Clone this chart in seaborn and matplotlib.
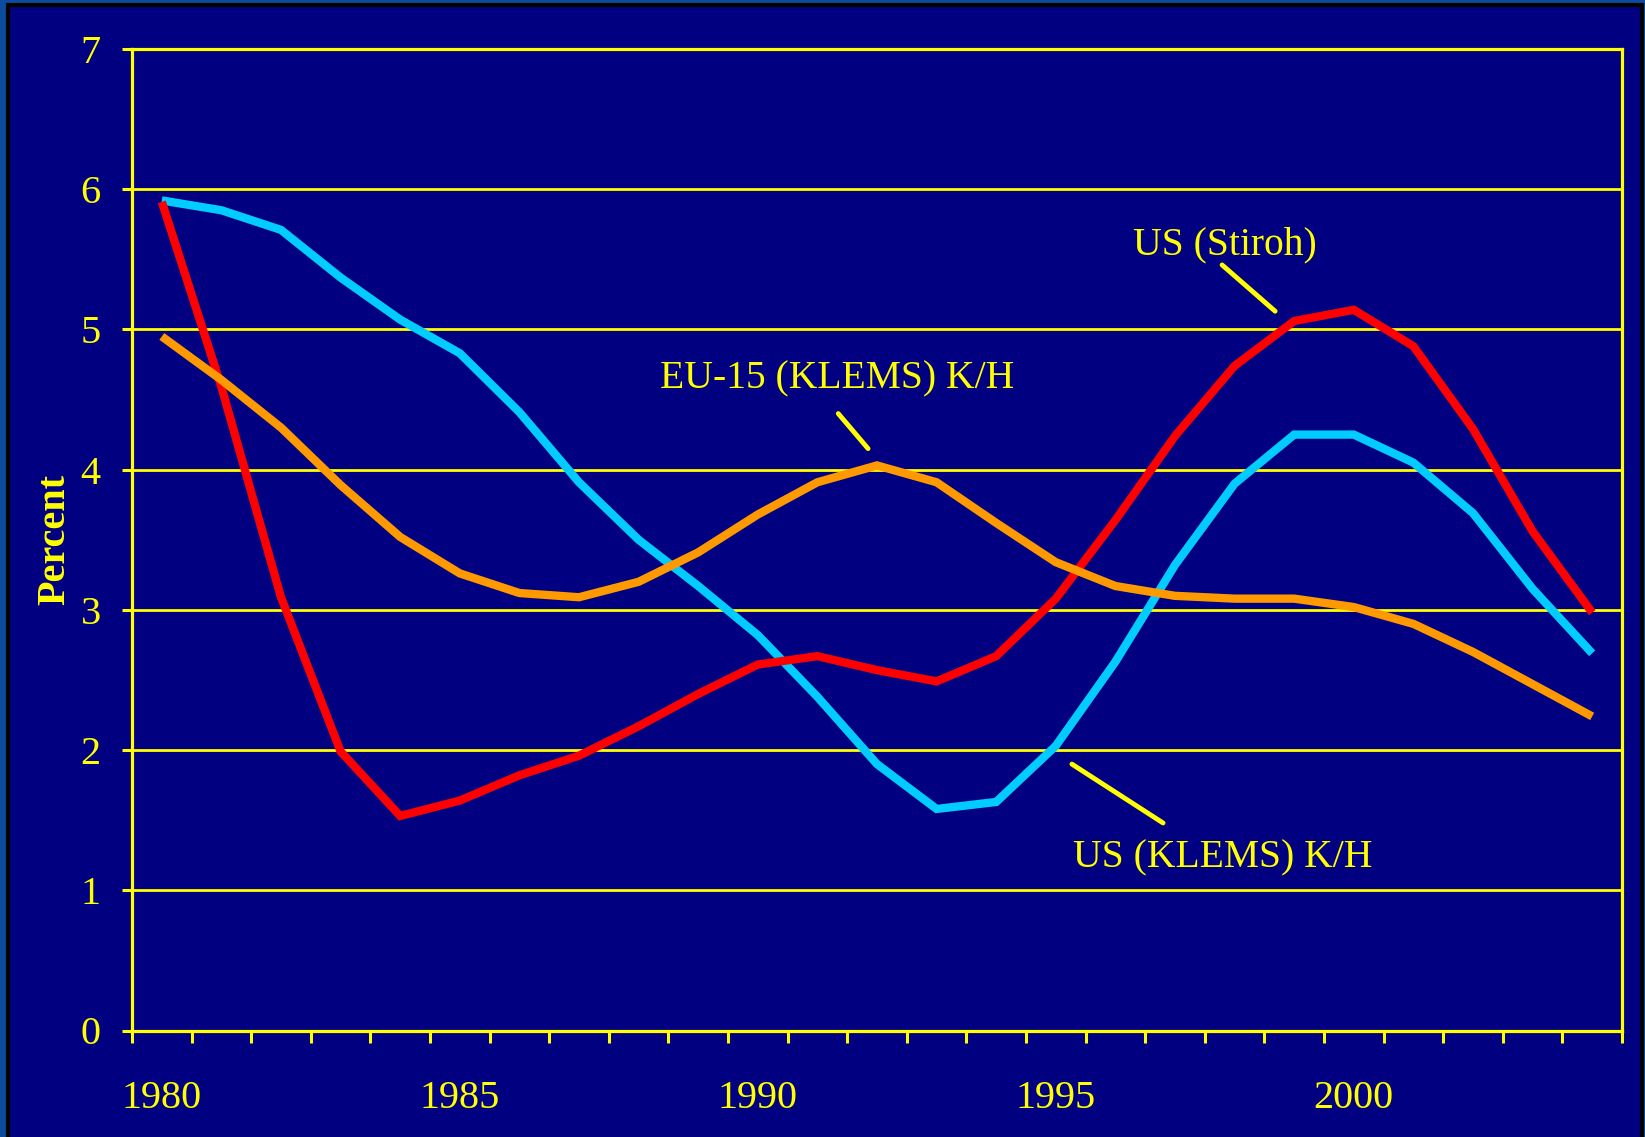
import matplotlib
matplotlib.use("Agg")
import matplotlib.pyplot as plt
from matplotlib.patches import Rectangle
import numpy as np
import pandas as pd
import seaborn as sns

years = list(range(1980, 2005))
us_klems = [5.92, 5.85, 5.71, 5.37, 5.07, 4.83, 4.41, 3.91, 3.50, 3.17, 2.82, 2.38, 1.90,
            1.58, 1.63, 2.03, 2.63, 3.32, 3.90, 4.25, 4.25, 4.05, 3.69, 3.15, 2.69]
us_stiroh = [5.91, 4.59, 3.09, 1.99, 1.53, 1.64, 1.82, 1.96, 2.17, 2.40, 2.61, 2.67, 2.57,
             2.49, 2.67, 3.08, 3.64, 4.24, 4.74, 5.06, 5.14, 4.88, 4.29, 3.56, 2.98]
eu15_klems = [4.95, 4.64, 4.30, 3.89, 3.52, 3.26, 3.12, 3.09, 3.20, 3.41, 3.68, 3.91, 4.03,
              3.91, 3.62, 3.34, 3.17, 3.10, 3.08, 3.08, 3.02, 2.90, 2.70, 2.47, 2.24]
series_names = ["US (KLEMS) K/H", "US (Stiroh)", "EU-15 (KLEMS) K/H"]
series_colors = ["#00CCFF", "#FF0000", "#FF9900"]
yticks = [0, 1, 2, 3, 4, 5, 6, 7]
xlabel_years = [1980, 1985, 1990, 1995, 2000]

sns.set_style("white")
plt.rcParams["font.family"] = ["Liberation Serif", "DejaVu Serif"]

yellow = "#FFFF00"
navy = "#000080"

df = pd.DataFrame({
    "pos": list(range(len(years))) * 3,
    "value": us_klems + us_stiroh + eu15_klems,
    "series": [n for n in series_names for _ in years],
})

fig = plt.figure(figsize=(16.45, 11.37), dpi=100)
fig.patch.set_facecolor("#0b4c9e")
# slide panel with black border
panel = Rectangle((8 / 1645, -0.01), 1634 / 1645, 1 - 5 / 1137 + 0.01,
                  transform=fig.transFigure, facecolor=navy,
                  edgecolor="black", linewidth=3, zorder=-10)
fig.add_artist(panel)

ax = fig.add_axes([132 / 1645, 1 - 1030.5 / 1137, 1490 / 1645, (1030.5 - 49) / 1137])
ax.set_zorder(5)
ax.set_facecolor(navy)

sns.lineplot(data=df, x="pos", y="value", hue="series", hue_order=series_names,
             palette=series_colors, linewidth=6.0, legend=False, ax=ax, zorder=3,
             solid_capstyle="butt", solid_joinstyle="miter")

ax.set_xlim(-0.5, len(years) - 0.5)
ax.set_ylim(0, 7)
ax.set_yticks(yticks)
ax.set_yticklabels([str(t) for t in yticks])
ax.yaxis.grid(True, color=yellow, linewidth=2.0)
ax.set_axisbelow(True)

ax.set_xticks([years.index(y) for y in xlabel_years])
ax.set_xticklabels([str(y) for y in xlabel_years])
ax.set_xticks(np.arange(-0.5, len(years)), minor=True)

ax.tick_params(axis="x", which="major", bottom=True, length=0, pad=36,
               labelsize=29, labelcolor=yellow)
ax.tick_params(axis="x", which="minor", bottom=True, length=8.5, width=2.2,
               color=yellow, direction="out")
ax.tick_params(axis="y", which="major", left=True, length=7.5, width=2.2, color=yellow,
               direction="out", pad=15, labelsize=29, labelcolor=yellow)

for s in ax.spines.values():
    s.set_color(yellow)
    s.set_linewidth(2.3)

ax.set_xlabel("")
ax.set_ylabel("Percent", fontsize=29, fontweight="bold", color=yellow, labelpad=5)

# labels with leader lines
labels = [
    ("US (Stiroh)", (17.84, 5.60), (17.79, 5.46), (18.68, 5.13)),
    ("EU-15 (KLEMS) K/H", (11.33, 4.65), (11.35, 4.40), (11.85, 4.15)),
    ("US (KLEMS) K/H", (17.80, 1.23), (15.27, 1.90), (16.80, 1.48)),
]
for text, tpos, lstart, lend in labels:
    ax.text(tpos[0], tpos[1], text, color=yellow, fontsize=28.5, ha="center", va="center")
    ax.annotate("", xy=lend, xytext=lstart,
                arrowprops=dict(arrowstyle="-", color=yellow, lw=3.5,
                                shrinkA=0, shrinkB=0))

fig.savefig("out.png", dpi=100, facecolor=fig.get_facecolor())
